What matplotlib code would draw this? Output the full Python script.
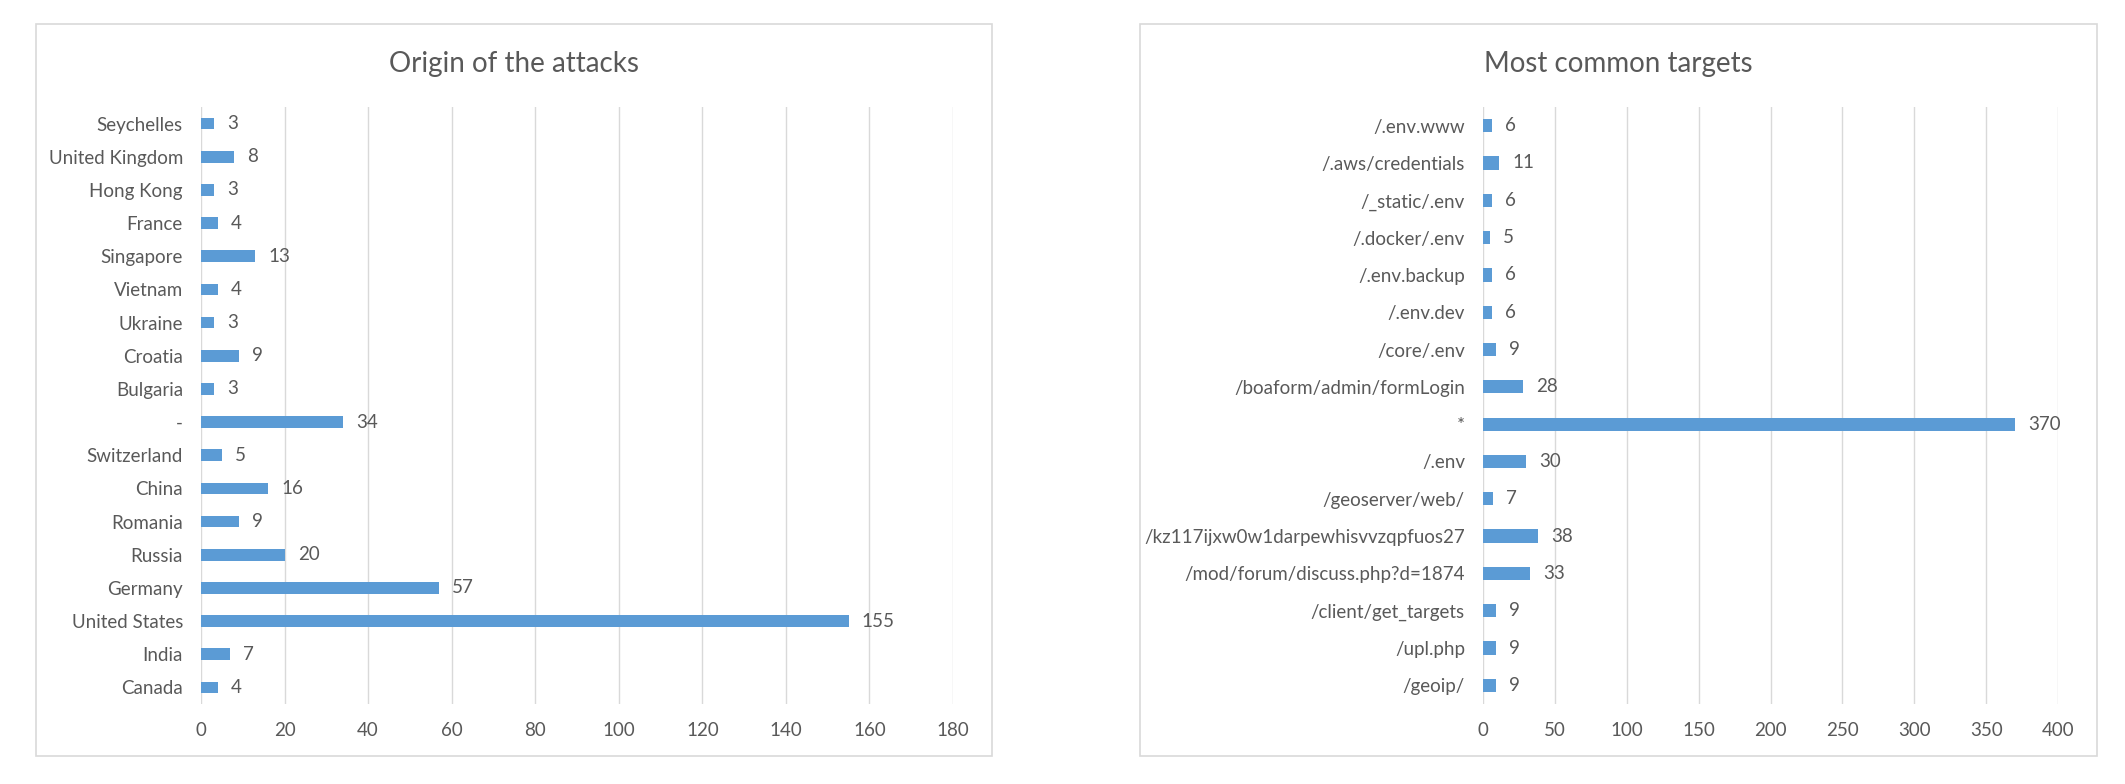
import matplotlib
matplotlib.use("Agg")
import matplotlib.pyplot as plt
from matplotlib.patches import Rectangle

plt.rcParams['font.family'] = ['Lato', 'DejaVu Sans']

# ---- data (bottom to top) ----
countries = ["Canada", "India", "United States", "Germany", "Russia", "Romania",
             "China", "Switzerland", "-", "Bulgaria", "Croatia", "Ukraine",
             "Vietnam", "Singapore", "France", "Hong Kong", "United Kingdom",
             "Seychelles"]
country_counts = [4, 7, 155, 57, 20, 9, 16, 5, 34, 3, 9, 3, 4, 13, 4, 3, 8, 3]

targets = ["/geoip/", "/upl.php", "/client/get_targets",
           "/mod/forum/discuss.php?d=1874", "/kz117ijxw0w1darpewhisvvzqpfuos27",
           "/geoserver/web/", "/.env", "*", "/boaform/admin/formLogin",
           "/core/.env", "/.env.dev", "/.env.backup", "/.docker/.env",
           "/_static/.env", "/.aws/credentials", "/.env.www"]
target_counts = [9, 9, 9, 33, 38, 7, 30, 370, 28, 9, 6, 6, 5, 6, 11, 6]

left_ticks = list(range(0, 181, 20))
right_ticks = list(range(0, 401, 50))

titles = ["Origin of the attacks", "Most common targets"]

# ---- style ----
BAR = "#5B9BD5"
TXT = "#595959"
GRID = "#D9D9D9"
W, H = 2125, 784
DPI = 100

fig = plt.figure(figsize=(W / DPI, H / DPI), dpi=DPI)

def fx(px):
    return px / W

def fy(py):
    return 1 - py / H

panels = [
    dict(box=(36, 24, 992, 756), ax=(201, 107, 953, 704),
         cats=countries, vals=country_counts, ticks=left_ticks, title=titles[0]),
    dict(box=(1140, 24, 2097, 756), ax=(1483, 107, 2058, 704),
         cats=targets, vals=target_counts, ticks=right_ticks, title=titles[1]),
]

for p in panels:
    bx0, by0, bx1, by1 = p["box"]
    fig.patches.append(Rectangle((fx(bx0), fy(by1)), fx(bx1 - bx0), (by1 - by0) / H,
                                 transform=fig.transFigure, facecolor="white",
                                 edgecolor=GRID, linewidth=1.2, zorder=-5))
    fig.text(fx((bx0 + bx1) / 2), fy(64), p["title"], ha="center", va="center",
             fontsize=20, color=TXT)

    ax0, ay0, ax1, ay1 = p["ax"]
    ax = fig.add_axes([fx(ax0), fy(ay1), fx(ax1 - ax0), (ay1 - ay0) / H])
    ax.set_zorder(5)
    ax.set_facecolor("none")
    n = len(p["cats"])
    ypos = list(range(n))
    bars = ax.barh(ypos, p["vals"], height=0.355, color=BAR, zorder=3)
    ax.bar_label(bars, padding=9.5, fontsize=13.5, color=TXT)
    ax.set_yticks(ypos)
    ax.set_yticklabels(p["cats"])
    ax.set_ylim(-0.5, n - 0.5)
    ax.set_xticks(p["ticks"])
    ax.set_xlim(p["ticks"][0], p["ticks"][-1])
    ax.grid(axis="x", color=GRID, linewidth=1.0, zorder=0)
    for s in ax.spines.values():
        s.set_visible(False)
    ax.tick_params(axis="both", length=0, labelsize=13.5, colors=TXT)
    ax.tick_params(axis="y", pad=13)
    ax.tick_params(axis="x", pad=13)

fig.savefig("out.png", dpi=DPI, facecolor="white")
